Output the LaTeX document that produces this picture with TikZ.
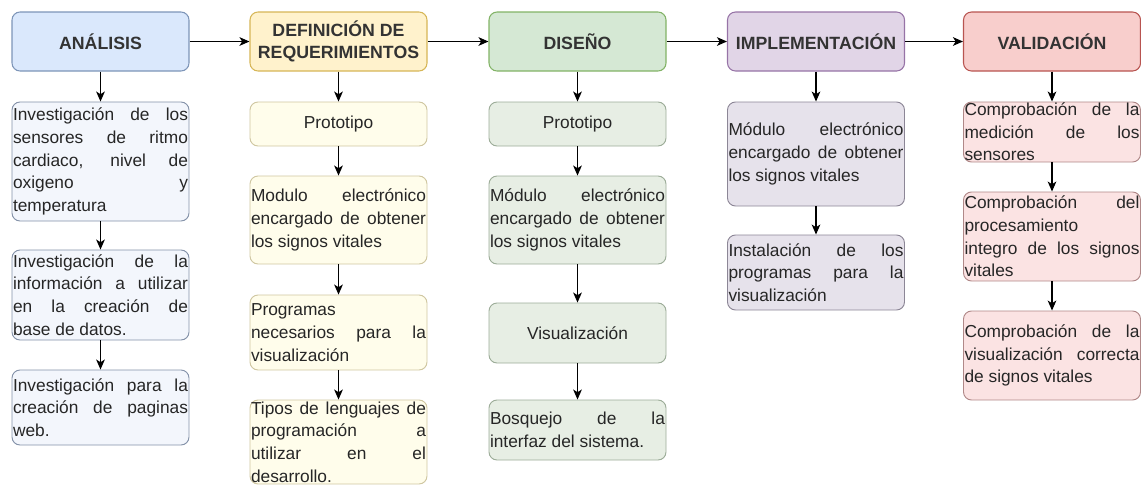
\documentclass[tikz,border=0pt]{standalone}
\usepackage{fontspec}
\setmainfont{Liberation Sans}
\usepackage{xcolor}
\usetikzlibrary{arrows.meta}
\hyphenpenalty=10000

\definecolor{azulF}{HTML}{DAE8FC}\definecolor{azulD}{HTML}{7D95B8}
\definecolor{azulC}{HTML}{F3F6FC}\definecolor{azulB}{HTML}{8391A8}
\definecolor{amarF}{HTML}{FFF2CC}\definecolor{amarD}{HTML}{D6B656}
\definecolor{amarC}{HTML}{FFFDEB}\definecolor{amarB}{HTML}{CFC6A0}
\definecolor{verdF}{HTML}{D5E8D4}\definecolor{verdD}{HTML}{82B366}
\definecolor{verdC}{HTML}{E7EEE4}\definecolor{verdB}{HTML}{9CAC98}
\definecolor{moraF}{HTML}{E1D5E7}\definecolor{moraD}{HTML}{9673A6}
\definecolor{moraC}{HTML}{E6E2EB}\definecolor{moraB}{HTML}{8C8696}
\definecolor{rojoF}{HTML}{F8CECC}\definecolor{rojoD}{HTML}{B85450}
\definecolor{rojoC}{HTML}{FBE3E3}\definecolor{rojoB}{HTML}{B08888}

\tikzset{
  fase/.style={draw, rounded corners=6pt, line width=0.8pt, minimum width=132.75pt,
    minimum height=44.25pt, align=center, text=black!80,
    font=\fontsize{13.3}{17}\selectfont\bfseries},
  paso/.style={draw, rounded corners=6pt, line width=0.7pt, text width=131.25pt,
    inner xsep=0.75pt, inner ysep=0pt, text=black!85, align=justify,
    font=\fontsize{13}{17}\selectfont},
  flecha/.style={-{Stealth[length=7.5pt,width=6.5pt,inset=2pt]}, line width=0.9pt}
}
\newcommand{\medio}[1]{\hfill#1\hfill\null}

\begin{document}
\begin{tikzpicture}[x=0.75pt, y=-0.75pt]
\useasboundingbox (0,0) rectangle (1141,486);

% fases
\foreach \nom/\txt/\col/\xx in {an/ANÁLISIS/azul/100.5,
    def/{DEFINICIÓN DE\\REQUERIMIENTOS}/amar/338.5,
    dis/DISEÑO/verd/577.5, imp/IMPLEMENTACIÓN/mora/816, val/VALIDACIÓN/rojo/1052}
  \node [fase, fill=\col F, draw=\col D] (\nom) at (\xx,41.5) {\txt};

% análisis
\foreach \txt/\yy/\hh [count=\k] in {
    {Investigación de los\linebreak sensores de ritmo\linebreak cardiaco, nivel de\linebreak oxigeno y\linebreak temperatura}/161.5/119,
    {Investigación de la\linebreak información a utilizar\linebreak en la creación de\linebreak base de datos.}/295/90,
    {Investigación para la\linebreak creación de paginas\linebreak web.}/407.5/75}
  \node [paso, fill=azulC, draw=azulB, minimum height=0.75pt*\hh] (an-\k) at (100.5,\yy) {\txt};

% definición de requerimientos
\foreach \txt/\yy/\hh [count=\k] in {
    {\medio{Prototipo}}/124/44,
    {Modulo electrónico\linebreak encargado de obtener\linebreak los signos vitales}/220/88,
    {Programas\linebreak necesarios para la\linebreak visualización}/332.5/75,
    {Tipos de lenguajes de\linebreak programación a\linebreak utilizar en el\linebreak desarrollo.}/442/84}
  \node [paso, fill=amarC, draw=amarB, minimum height=0.75pt*\hh] (def-\k) at (338.5,\yy) {\txt};

% diseño
\foreach \txt/\yy/\hh [count=\k] in {
    {\medio{Prototipo}}/124/44,
    {Módulo electrónico\linebreak encargado de obtener\linebreak los signos vitales}/220/88,
    {\medio{Visualización}}/333/60,
    {Bosquejo de la\linebreak interfaz del sistema.}/430/60}
  \node [paso, fill=verdC, draw=verdB, minimum height=0.75pt*\hh] (dis-\k) at (577.5,\yy) {\txt};

% implementación
\foreach \txt/\yy/\hh [count=\k] in {
    {Módulo electrónico\linebreak encargado de obtener\linebreak los signos vitales}/154/104,
    {Instalación de los\linebreak programas para la\linebreak visualización}/272.5/75}
  \node [paso, fill=moraC, draw=moraB, minimum height=0.75pt*\hh] (imp-\k) at (816,\yy) {\txt};

% validación
\foreach \txt/\yy/\hh [count=\k] in {
    {Comprobación de la\linebreak medición de los\linebreak sensores}/132/60,
    {Comprobación del\linebreak procesamiento\linebreak integro de los signos\linebreak vitales}/236.5/89,
    {Comprobación de la\linebreak visualización correcta\linebreak de signos vitales}/355.5/89}
  \node [paso, fill=rojoC, draw=rojoB, minimum height=0.75pt*\hh] (val-\k) at (1052,\yy) {\txt};

% conexiones
\foreach \de/\ha in {an/def, def/dis, dis/imp, imp/val,
    an/an-1, an-1/an-2, an-2/an-3,
    def/def-1, def-1/def-2, def-2/def-3, def-3/def-4,
    dis/dis-1, dis-1/dis-2, dis-2/dis-3, dis-3/dis-4,
    imp/imp-1, imp-1/imp-2,
    val/val-1, val-1/val-2, val-2/val-3}
  \draw [flecha] (\de) -- (\ha);

\end{tikzpicture}
\end{document}
